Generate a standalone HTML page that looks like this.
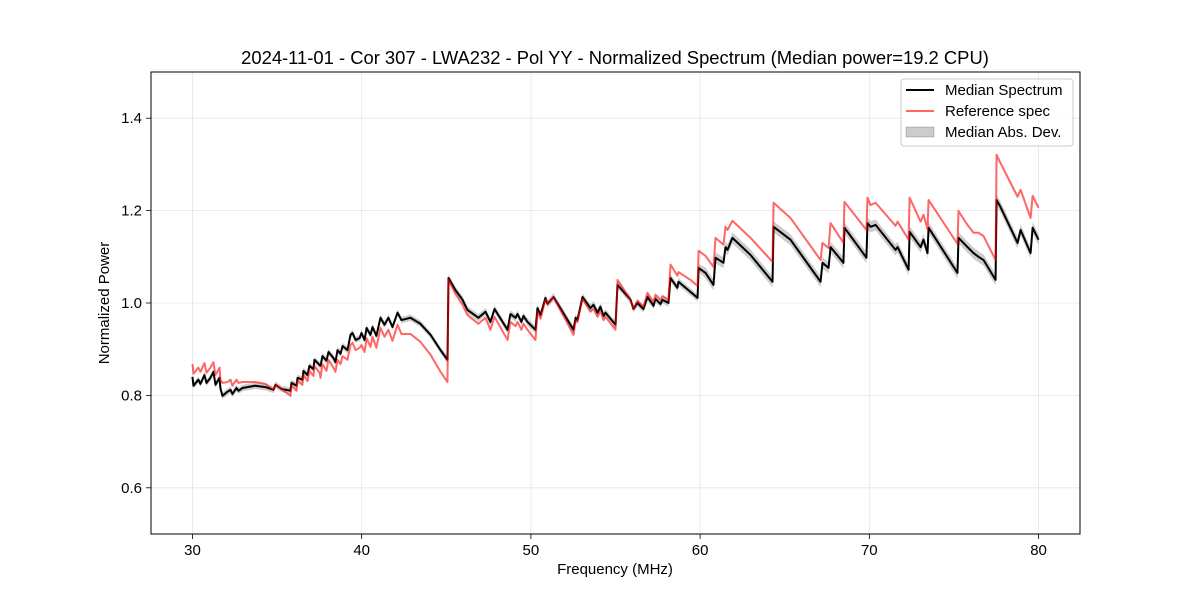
<!DOCTYPE html>
<html><head><meta charset="utf-8"><style>
body{margin:0;background:#fff;}
svg text{font-family:"Liberation Sans","DejaVu Sans",sans-serif;fill:#000;}
</style></head><body>
<svg id="chart" width="1200" height="600" xmlns="http://www.w3.org/2000/svg">
<rect width="1200" height="600" fill="#fff"/>
<text x="615" y="64" font-size="18.4" text-anchor="middle">2024-11-01 - Cor 307 - LWA232 - Pol YY - Normalized Spectrum (Median power=19.2 CPU)</text>
<g id="grid"></g>
<g id="marks"></g>
<rect x="151" y="72" width="929" height="462" fill="none" stroke="#000" stroke-width="1"/>
<g id="axes"></g>
<text x="615" y="574" font-size="15" text-anchor="middle">Frequency (MHz)</text>
<text x="109" y="303" font-size="15" text-anchor="middle" transform="rotate(-90 109 303)">Normalized Power</text>
<g>
<rect x="901" y="79" width="172" height="67" rx="3" fill="#fff" fill-opacity="0.8" stroke="#ccc"/>
<line x1="906" y1="90" x2="934" y2="90" stroke="#000" stroke-width="2"/>
<text x="945" y="95" font-size="15">Median Spectrum</text>
<line x1="906" y1="111" x2="934" y2="111" stroke="#ff0000" stroke-opacity="0.6" stroke-width="2"/>
<text x="945" y="116" font-size="15">Reference spec</text>
<rect x="906" y="127" width="28" height="10" fill="#000" fill-opacity="0.2" stroke="#000" stroke-opacity="0.2"/>
<text x="945" y="137" font-size="15">Median Abs. Dev.</text>
</g>
</svg>
<script>
const freqs=[30.00,30.06,30.35,30.47,30.71,30.83,31.06,31.24,31.36,31.60,31.65,31.77,32.07,32.25,32.36,32.60,32.72,32.96,33.72,34.31,34.79,34.91,35.26,35.79,35.85,36.15,36.21,36.50,36.56,36.80,36.91,37.15,37.21,37.51,37.57,37.68,37.92,38.04,38.33,38.45,38.57,38.75,38.87,39.16,39.34,39.46,39.64,39.88,39.99,40.17,40.29,40.52,40.64,40.87,41.11,41.35,41.58,41.82,42.12,42.35,42.88,43.47,44.07,44.66,45.07,45.13,45.54,45.96,46.25,46.90,47.32,47.61,47.85,48.62,48.79,49.09,49.21,49.44,49.56,49.80,50.27,50.39,50.57,50.86,50.98,51.34,52.52,52.64,52.75,53.05,53.52,53.70,53.94,54.11,54.29,54.41,55.00,55.12,55.89,56.06,56.30,56.65,56.89,57.25,57.36,57.66,57.78,58.13,58.25,58.66,58.72,59.43,59.85,59.91,60.32,60.79,60.91,61.38,61.50,61.62,61.91,62.98,64.28,64.34,65.34,67.12,67.23,67.59,67.71,68.47,68.53,69.83,69.89,70.07,70.37,71.55,71.67,72.32,72.38,73.03,73.20,73.44,73.50,75.21,75.27,75.80,76.16,76.45,76.75,77.46,77.52,77.75,78.76,78.94,79.53,79.65,80.00];
const median=[0.840,0.821,0.834,0.825,0.844,0.827,0.838,0.851,0.823,0.838,0.816,0.799,0.808,0.812,0.803,0.816,0.810,0.816,0.821,0.818,0.812,0.823,0.814,0.810,0.827,0.821,0.838,0.834,0.853,0.844,0.864,0.857,0.877,0.866,0.864,0.885,0.875,0.894,0.881,0.872,0.898,0.890,0.907,0.898,0.931,0.935,0.920,0.924,0.935,0.920,0.946,0.931,0.948,0.929,0.968,0.953,0.968,0.948,0.979,0.963,0.968,0.955,0.931,0.898,0.877,1.054,1.028,1.007,0.985,0.968,0.981,0.959,0.987,0.942,0.976,0.968,0.976,0.959,0.972,0.959,0.942,0.989,0.974,1.011,0.998,1.013,0.942,0.968,0.963,1.013,0.989,0.996,0.979,0.992,0.972,0.979,0.953,1.039,1.007,0.987,1.000,0.987,1.013,0.994,1.009,0.998,1.007,1.000,1.054,1.033,1.046,1.024,1.011,1.076,1.065,1.039,1.098,1.087,1.121,1.115,1.141,1.104,1.046,1.165,1.137,1.046,1.087,1.076,1.121,1.087,1.163,1.098,1.173,1.165,1.169,1.115,1.121,1.072,1.154,1.121,1.137,1.108,1.163,1.065,1.141,1.121,1.108,1.100,1.093,1.050,1.223,1.208,1.130,1.158,1.108,1.163,1.137];
const reference=[0.868,0.847,0.860,0.851,0.870,0.849,0.860,0.872,0.844,0.860,0.834,0.827,0.829,0.834,0.821,0.834,0.827,0.829,0.829,0.825,0.812,0.823,0.814,0.799,0.821,0.810,0.831,0.823,0.844,0.831,0.853,0.842,0.864,0.849,0.838,0.868,0.853,0.877,0.860,0.851,0.877,0.868,0.885,0.877,0.909,0.914,0.898,0.903,0.909,0.894,0.924,0.905,0.927,0.903,0.946,0.927,0.942,0.918,0.953,0.933,0.933,0.916,0.888,0.851,0.829,1.050,1.020,0.996,0.974,0.955,0.968,0.942,0.970,0.920,0.959,0.950,0.959,0.942,0.955,0.942,0.920,0.981,0.966,1.007,0.998,1.013,0.931,0.963,0.959,1.009,0.981,0.987,0.970,0.983,0.963,0.970,0.942,1.050,1.007,0.987,1.005,0.992,1.022,1.002,1.018,1.007,1.015,1.007,1.083,1.059,1.067,1.050,1.037,1.113,1.102,1.078,1.141,1.126,1.165,1.158,1.178,1.141,1.089,1.217,1.184,1.093,1.130,1.119,1.173,1.130,1.219,1.158,1.228,1.212,1.217,1.167,1.176,1.137,1.228,1.176,1.191,1.160,1.223,1.128,1.199,1.169,1.152,1.152,1.145,1.093,1.321,1.303,1.230,1.245,1.184,1.232,1.206];
const madBandStart=[30,45,60];
const madBandValue=[0.007,0.008,0.012];
const xTicks=[30,40,50,60,70,80];
const yTicks=[0.6,0.8,1.0,1.2,1.4];
const yTickLabels=["0.6","0.8","1.0","1.2","1.4"];

const NS="http://www.w3.org/2000/svg";
const X0=151,X1=1080,Y0=72,Y1=534;
const xMin=27.55,xMax=82.45,yMin=0.5,yMax=1.5;
function xs(f){return X0+(f-xMin)/(xMax-xMin)*(X1-X0);}
function ys(v){return Y1-(v-yMin)/(yMax-yMin)*(Y1-Y0);}
function madAt(f){let m=madBandValue[0];for(let i=0;i<madBandStart.length;i++){if(f>=madBandStart[i])m=madBandValue[i];}return m;}
function mk(tag,attrs,parent){const e=document.createElementNS(NS,tag);for(const k in attrs)e.setAttribute(k,attrs[k]);parent.appendChild(e);return e;}

const grid=document.getElementById('grid'),axes=document.getElementById('axes'),marks=document.getElementById('marks');
xTicks.forEach(t=>{
  const x=xs(t);
  const g=mk('line',{x1:x,x2:x,y1:Y0,y2:Y1,stroke:'#b0b0b0','stroke-opacity':0.3,'stroke-width':0.8},grid);
  
  
  const tk=mk('line',{x1:x,x2:x,y1:Y1,y2:Y1+5,stroke:'#000','stroke-width':0.8},axes);
  
  
  const tx=mk('text',{x:x,y:Y1+21,'font-size':15,'text-anchor':'middle'},axes);
  tx.textContent=String(t);
  
  
});
yTicks.forEach((t,i)=>{
  const y=ys(t);
  const g=mk('line',{x1:X0,x2:X1,y1:y,y2:y,stroke:'#b0b0b0','stroke-opacity':0.3,'stroke-width':0.8},grid);
  
  
  const tk=mk('line',{x1:X0-5,x2:X0,y1:y,y2:y,stroke:'#000','stroke-width':0.8},axes);
  
  
  const tx=mk('text',{x:X0-9,y:y+5,'font-size':15,'text-anchor':'end'},axes);
  tx.textContent=yTickLabels[i];
  
  
});
let up=[],dn=[];
freqs.forEach((f,i)=>{const m=madAt(f);up.push(xs(f)+','+ys(median[i]+m));dn.unshift(xs(f)+','+ys(median[i]-m));});
const band=mk('polygon',{points:up.concat(dn).join(' '),fill:'#000','fill-opacity':0.2,stroke:'none'},marks);


const mp=mk('polyline',{points:freqs.map((f,i)=>xs(f)+','+ys(median[i])).join(' '),fill:'none',stroke:'#000','stroke-width':2,'stroke-linejoin':'round'},marks);


const rp=mk('polyline',{points:freqs.map((f,i)=>xs(f)+','+ys(reference[i])).join(' '),fill:'none',stroke:'#ff0000','stroke-opacity':0.6,'stroke-width':2,'stroke-linejoin':'round'},marks);


</script>
</body></html>
